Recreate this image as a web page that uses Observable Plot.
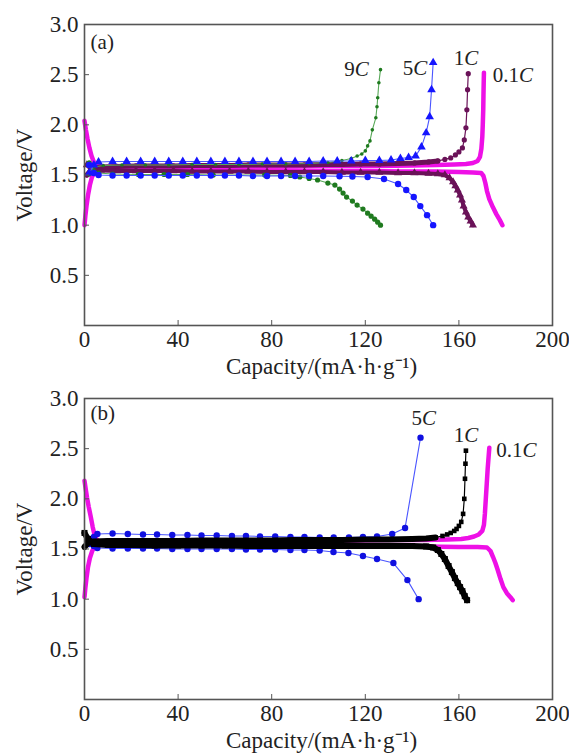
<!DOCTYPE html>
<html><head><meta charset="utf-8">
<script src="https://cdn.jsdelivr.net/npm/d3@7"></script>
<script src="https://cdn.jsdelivr.net/npm/@observablehq/plot@0.6"></script>
<style>
html,body{margin:0;padding:0;background:#fff;}
#chart svg{display:block;}
</style></head><body><div id="chart"></div>
<script>
// ---------- tick labels ----------
const xTicks = [0, 40, 80, 120, 160, 200];
const yTicks = [0.5, 1.0, 1.5, 2.0, 2.5, 3.0];
const xLabel = "Capacity/(mA·h·g⁻¹)";
const yLabel = "Voltage/V";

// ---------- panel (a) ----------
const a_01C_charge = [[0,1.00],[0.4,1.10],[0.9,1.20],[1.5,1.30],[2.3,1.40],[3.2,1.48],[4.5,1.54],[6,1.56],[10,1.57],[20,1.575],[35,1.58],[50,1.58],[65,1.585],[80,1.585],[95,1.59],[110,1.59],[125,1.59],[140,1.595],[150,1.60],[158,1.605],[163,1.61],[166,1.62],[168,1.64],[169,1.68],[169.6,1.76],[170,1.88],[170.2,2.00],[170.4,2.15],[170.5,2.30],[170.6,2.42],[170.7,2.52]];
const a_01C_discharge = [[0,2.04],[0.6,1.95],[1.3,1.86],[2.1,1.77],[3,1.69],[4,1.63],[5.5,1.59],[8,1.57],[15,1.56],[30,1.555],[45,1.55],[60,1.55],[75,1.545],[90,1.545],[105,1.54],[120,1.54],[135,1.535],[150,1.535],[160,1.53],[166,1.525],[169.5,1.52],[170.5,1.49],[171.3,1.42],[172,1.34],[173,1.26],[174.5,1.18],[176,1.11],[177.5,1.05],[178.6,1.00]];
const a_1C_charge = [[1,1.50],[3,1.56],[7,1.58],[14,1.585],[22,1.59],[30,1.59],[38,1.59],[46,1.595],[54,1.595],[62,1.595],[70,1.60],[78,1.60],[86,1.60],[94,1.60],[102,1.605],[110,1.605],[118,1.61],[126,1.61],[134,1.615],[141,1.62],[147,1.63],[151,1.64],[154,1.655],[156.5,1.67],[158.5,1.70],[160,1.73],[161.5,1.77],[162.3,1.85],[163,1.97],[163.4,2.15],[163.7,2.35],[164,2.51]];
const a_1C_discharge = [[1,1.60],[3,1.555],[7,1.545],[14,1.54],[22,1.54],[30,1.54],[38,1.54],[46,1.535],[54,1.535],[62,1.535],[70,1.535],[78,1.53],[86,1.53],[94,1.53],[102,1.53],[110,1.525],[118,1.525],[126,1.525],[134,1.52],[141,1.52],[147,1.515],[151,1.51],[154,1.50],[156,1.47],[157.5,1.43],[158.5,1.39],[159.5,1.35],[160.5,1.30],[161.3,1.25],[162,1.19],[163,1.13],[164,1.08],[165,1.04],[166,1.00]];
const a_5C_charge = [[2,1.52],[4,1.60],[6,1.63],[12,1.635],[18,1.635],[24,1.635],[30,1.635],[36,1.635],[42,1.635],[48,1.635],[54,1.635],[60,1.635],[66,1.635],[72,1.635],[78,1.635],[84,1.635],[90,1.635],[96,1.635],[102,1.64],[108,1.64],[114,1.64],[120,1.645],[126,1.645],[131,1.65],[135,1.665],[138.5,1.675],[141.5,1.69],[144,1.78],[146,1.92],[147.5,2.08],[148.3,2.35],[149,2.62]];
const a_5C_discharge = [[2,1.60],[4,1.52],[6,1.50],[12,1.495],[18,1.495],[24,1.495],[30,1.495],[36,1.495],[42,1.495],[48,1.495],[54,1.495],[60,1.495],[66,1.495],[72,1.49],[78,1.49],[84,1.49],[90,1.49],[96,1.49],[102,1.49],[109,1.488],[114.5,1.485],[121,1.48],[128,1.46],[134,1.41],[137.5,1.35],[140.7,1.28],[143.5,1.19],[146.4,1.10],[149,1.00]];
const a_9C_charge = [[2,1.50],[4,1.58],[8,1.595],[16,1.60],[26,1.60],[36,1.60],[46,1.605],[56,1.605],[66,1.605],[76,1.61],[86,1.61],[96,1.615],[104,1.625],[110,1.645],[114,1.665],[116.5,1.69],[118.5,1.71],[120,1.74],[121,1.79],[122,1.84],[123,1.95],[124.5,2.07],[125,2.18],[125.3,2.27],[125.8,2.42],[126.5,2.55]];
const a_9C_discharge = [[2,1.62],[4,1.54],[6,1.52],[12,1.51],[23,1.505],[34,1.505],[44,1.505],[55,1.50],[66,1.50],[77,1.50],[88,1.495],[92,1.48],[96,1.465],[99.6,1.45],[104,1.42],[107,1.40],[109,1.36],[110.5,1.32],[112,1.28],[114.5,1.24],[116.5,1.20],[119,1.16],[121,1.12],[122.5,1.09],[124,1.06],[125.3,1.03],[126.5,1.00]];

// ---------- panel (b) ----------
const b_01C_charge = [[0,1.02],[0.4,1.12],[0.9,1.22],[1.5,1.32],[2.3,1.41],[3.3,1.48],[4.6,1.54],[6,1.56],[10,1.565],[25,1.57],[40,1.575],[55,1.575],[70,1.58],[85,1.58],[100,1.585],[115,1.585],[130,1.59],[145,1.59],[155,1.595],[161,1.60],[164,1.61],[166.5,1.625],[168.5,1.645],[170,1.68],[170.7,1.74],[171.1,1.85],[171.5,2.00],[171.9,2.15],[172.3,2.30],[172.7,2.42],[173,2.51]];
const b_01C_discharge = [[0,2.18],[0.5,2.10],[1.1,2.01],[1.8,1.92],[2.6,1.83],[3.5,1.72],[4.5,1.62],[6,1.57],[10,1.55],[25,1.545],[40,1.54],[55,1.54],[70,1.535],[85,1.535],[100,1.53],[115,1.53],[130,1.525],[145,1.525],[160,1.52],[168,1.52],[172,1.515],[173.5,1.48],[174.6,1.42],[175.6,1.36],[176.6,1.29],[177.8,1.20],[179,1.12],[180.5,1.06],[182,1.02],[183,0.99]];
const b_1C_charge = [[0,1.52],[1.5,1.56],[4,1.575],[10,1.58],[20,1.58],[30,1.58],[40,1.58],[50,1.585],[60,1.585],[70,1.585],[80,1.585],[90,1.59],[100,1.59],[110,1.59],[120,1.595],[130,1.595],[140,1.60],[146,1.605],[150,1.615],[153,1.63],[155,1.645],[156.5,1.66],[158,1.68],[159,1.70],[160,1.73],[161,1.77],[161.8,1.85],[162.3,2.00],[162.6,2.20],[162.8,2.35],[163,2.48]];
const b_1C_discharge = [[0,1.66],[1.5,1.60],[4,1.55],[10,1.54],[20,1.54],[30,1.535],[40,1.535],[50,1.535],[60,1.535],[70,1.53],[80,1.53],[90,1.53],[100,1.53],[110,1.53],[120,1.53],[130,1.53],[140,1.53],[146,1.525],[149,1.515],[151,1.49],[152.5,1.45],[154,1.40],[155.6,1.33],[157,1.27],[158.3,1.21],[159.5,1.16],[160.5,1.12],[161.5,1.08],[162.5,1.03],[163.5,0.99]];
const b_5C_charge = [[2,1.55],[4,1.62],[5.5,1.65],[12,1.655],[18.5,1.65],[25,1.645],[31,1.645],[37.5,1.64],[44,1.64],[50,1.635],[56.5,1.635],[63,1.63],[69,1.63],[75,1.625],[81.5,1.625],[88,1.62],[94,1.62],[100.5,1.615],[106.5,1.615],[113,1.615],[119,1.62],[125,1.625],[131.5,1.65],[137,1.71],[143.6,2.61]];
const b_5C_discharge = [[2,1.60],[4,1.53],[5.5,1.51],[12,1.505],[18.5,1.505],[25,1.505],[31,1.505],[37.5,1.50],[44,1.50],[50,1.50],[56.5,1.50],[63,1.50],[69,1.495],[75,1.495],[81.5,1.495],[88,1.49],[94,1.49],[100.5,1.485],[106.4,1.47],[112.8,1.46],[119,1.43],[125,1.40],[132,1.36],[138,1.19],[142.8,1.00]];

// ---------- rate labels ----------
const aLabels = [{t:"9C",x:121.5,y:2.55,a:"end"},{t:"5C",x:146.5,y:2.56,a:"end"},{t:"1C",x:163,y:2.66,a:"middle"},{t:"0.1C",x:174.5,y:2.49,a:"start"}];
const bLabels = [{t:"5C",x:145,y:2.80,a:"middle"},{t:"1C",x:163,y:2.63,a:"middle"},{t:"0.1C",x:176,y:2.48,a:"start"}];

const FONT = "'Liberation Serif','Times New Roman',serif";

function seriesMarks(s) {
  const m = [];
  const X = d => d[0], Y = d => d[1];
  for (const [arr, sym, cut, bw, r] of [[s.charge, s.symC, s.cutC, s.bandC, s.rC ?? s.r], [s.discharge, s.symD, s.cutD, s.bandD, s.rD ?? s.r]]) {
    m.push(Plot.line(arr, {x: X, y: Y, stroke: s.line || s.color, strokeWidth: s.w}));
    if (bw) m.push(Plot.line(arr, {filter: d => d[0] <= cut, x: X, y: Y, stroke: s.color, strokeWidth: bw}));
    if (r) m.push(Plot.dot(arr, {x: X, y: Y, r: r, fill: s.color, stroke: "none", symbol: sym || "circle"}));
  }
  return m;
}

function panel(series, labels, tag, tagY, opts) {
  const labMark = a => Plot.text(labels, {filter: d => d.a === a, x: "x", y: "y", text: "t", textAnchor: a, fontSize: 21, className: "ratelab"});
  const svg = Plot.plot({
    width: 569, height: opts.height,
    marginTop: opts.mt, marginBottom: opts.mb, marginLeft: 84, marginRight: 17,
    style: {fontFamily: FONT, fontSize: "23px", color: "#222", background: "#fff", overflow: "visible"},
    x: {domain: [0, 200]},
    y: {domain: [0, 3]},
    marks: [
      ...series.flatMap(seriesMarks),
      Plot.frame({stroke: "#555", strokeWidth: 1.6}),
      Plot.axisX({ticks: xTicks, tickSize: -5, tickPadding: 10, label: null, stroke: "#555"}),
      Plot.axisY({ticks: yTicks, tickFormat: d3.format(".1f"), tickSize: -5, tickPadding: 11, label: null, stroke: "#555"}),
      Plot.text([xLabel], {frameAnchor: "bottom", lineAnchor: "middle", textAnchor: "middle", dy: 41, dx: 3, fontSize: 23}),
      Plot.text([yLabel], {frameAnchor: "left", lineAnchor: "middle", textAnchor: "middle", dx: -60, rotate: -90, fontSize: 23}),
      Plot.text([tag], {x: 2.6, y: tagY, textAnchor: "start", fontSize: 21}),
      labMark("start"), labMark("middle"), labMark("end")
    ]
  });
  // italic C in rate labels
  svg.querySelectorAll(".ratelab text").forEach(t => {
    const s = t.textContent;
    if (s.endsWith("C")) {
      t.textContent = "";
      t.appendChild(document.createTextNode(s.slice(0, -1)));
      const ts = document.createElementNS("http://www.w3.org/2000/svg", "tspan");
      ts.setAttribute("font-style", "italic");
      ts.textContent = "C";
      t.appendChild(ts);
    }
  });
  return svg;
}

const seriesA = [
  {charge: a_01C_charge, discharge: a_01C_discharge, color: "#ee10e6", w: 4.5, r: 0},
  {charge: a_1C_charge, discharge: a_1C_discharge, color: "#6a1258", w: 1.2, bandC: 5, cutC: 152, bandD: 4, cutD: 166, r: 2.6, rD: 3, symC: "circle", symD: "triangle"},
  {charge: a_9C_charge, discharge: a_9C_discharge, color: "#1f7a1f", line: "#58a858", w: 1.1, rC: 1.8, rD: 2.6},
  {charge: a_5C_charge, discharge: a_5C_discharge, color: "#1515ff", line: "#4a55ff", w: 1.1, r: 3.2, symC: "triangle", symD: "circle"}
];
const seriesB = [
  {charge: b_01C_charge, discharge: b_01C_discharge, color: "#ee10e6", w: 4.5, r: 0},
  {charge: b_5C_charge, discharge: b_5C_discharge, color: "#1010e0", line: "#4a55ff", w: 1.1, r: 3.2},
  {charge: b_1C_charge, discharge: b_1C_discharge, color: "#000000", w: 1.2, bandC: 6, cutC: 150, bandD: 6, cutD: 164, r: 2.6, rD: 3.4, symC: "square", symD: "square"}
];

const root = document.getElementById("chart");
root.appendChild(panel(seriesA, aLabels, "(a)", 2.82, {height: 378, mt: 24, mb: 53}));
root.appendChild(panel(seriesB, bLabels, "(b)", 2.85, {height: 376, mt: 20, mb: 55}));
</script></body></html>
